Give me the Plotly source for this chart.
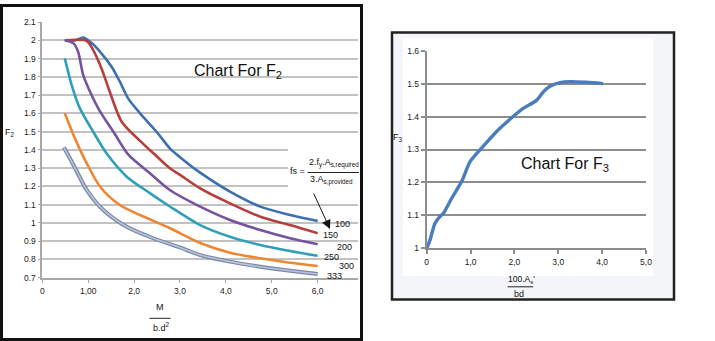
import plotly.graph_objects as go

# ---- F2 chart data: M / b.d^2 versus modification factor F2 for each fs ----
fs_labels = ["100", "150", "200", "250", "300", "333"]

x_100 = [0.49, 0.73, 0.89, 1.05, 1.26, 1.51, 1.69, 1.87, 2.13, 2.49, 2.78, 3.0, 3.44, 4.09, 4.75, 5.40, 6.0]
y_100 = [2.0, 2.0, 2.015, 1.99, 1.937, 1.855, 1.773, 1.682, 1.600, 1.499, 1.408, 1.36, 1.275, 1.171, 1.089, 1.043, 1.01]

x_150 = [0.49, 0.97, 1.1, 1.29, 1.47, 1.73, 2.13, 2.42, 2.78, 3.0, 3.44, 4.09, 4.75, 5.40, 6.0]
y_150 = [2.0, 1.996, 1.95, 1.846, 1.718, 1.554, 1.449, 1.381, 1.299, 1.263, 1.189, 1.107, 1.034, 0.988, 0.943]

x_200 = [0.49, 0.68, 0.78, 0.89, 1.04, 1.26, 1.55, 1.87, 2.35, 2.78, 3.44, 4.09, 4.75, 5.40, 6.0]
y_200 = [2.0, 1.983, 1.937, 1.81, 1.718, 1.609, 1.499, 1.375, 1.271, 1.18, 1.089, 1.016, 0.961, 0.916, 0.883]

x_250 = [0.49, 0.64, 0.82, 1.11, 1.40, 1.84, 2.35, 2.78, 3.44, 4.09, 4.75, 5.40, 6.0]
y_250 = [1.901, 1.755, 1.627, 1.499, 1.381, 1.253, 1.162, 1.09, 0.988, 0.924, 0.879, 0.846, 0.820]

x_300 = [0.49, 0.68, 0.86, 0.97, 1.26, 1.69, 2.13, 2.75, 3.44, 4.09, 4.75, 5.40, 6.0]
y_300 = [1.60, 1.481, 1.381, 1.326, 1.198, 1.098, 1.043, 0.975, 0.89, 0.837, 0.806, 0.782, 0.764]

x_333 = [0.47, 0.68, 0.97, 1.33, 1.84, 2.42, 3.0, 3.44, 4.09, 4.75, 5.40, 6.0]
y_333 = [1.414, 1.317, 1.18, 1.071, 0.979, 0.916, 0.866, 0.824, 0.788, 0.760, 0.738, 0.720]

f2_xticks = [0, 1, 2, 3, 4, 5, 6]
f2_xtext = ["0", "1,00", "2,0", "3,0", "4,0", "5,0", "6,0"]
f2_yticks = [0.7, 0.8, 0.9, 1.0, 1.1, 1.2, 1.3, 1.4, 1.5, 1.6, 1.7, 1.8, 1.9, 2.0, 2.1]
f2_ytext = ["0.7", "0.8", "0.9", "1", "1.1", "1.2", "1.3", "1.4", "1.5", "1.6", "1.7", "1.8", "1.9", "2", "2.1"]

# ---- F3 chart data: 100.As'/bd versus F3 ----
x_f3 = [0.0, 0.075, 0.19, 0.30, 0.38, 0.57, 0.80, 0.99, 1.25, 1.59, 1.97, 2.20, 2.51, 2.66, 2.81, 3.04, 3.27, 3.64, 4.02]
y_f3 = [1.0, 1.025, 1.076, 1.096, 1.106, 1.152, 1.204, 1.263, 1.304, 1.354, 1.40, 1.425, 1.45, 1.475, 1.492, 1.503, 1.506, 1.504, 1.50]

f3_xticks = [0, 1, 2, 3, 4, 5]
f3_xtext = ["0", "1,0", "2,0", "3,0", "4,0", "5,0"]
f3_yticks = [1.0, 1.1, 1.2, 1.3, 1.4, 1.5, 1.6]
f3_ytext = ["1", "1.1", "1.2", "1.3", "1.4", "1.5", "1.6"]

W, H = 715, 341
FONT = "Liberation Sans, Arial, sans-serif"


def px(x):
    return x / W


def py(y):
    return 1 - y / H


fig = go.Figure()

series = [
    (x_100, y_100, "#3d6fb1"),
    (x_150, y_150, "#b63f3b"),
    (x_200, y_200, "#7553a0"),
    (x_250, y_250, "#2f9fb9"),
    (x_300, y_300, "#ee8733"),
]
for (xs, ys, col), name in zip(series, fs_labels):
    fig.add_trace(go.Scatter(x=xs, y=ys, mode="lines", name=name,
                             line=dict(color=col, width=2.6, shape="spline", smoothing=0.8),
                             xaxis="x", yaxis="y", showlegend=False))

# fs = 333 drawn as an outlined double line
fig.add_trace(go.Scatter(x=x_333, y=y_333, mode="lines", name="333",
                         line=dict(color="#7b88a4", width=4, shape="spline", smoothing=0.8),
                         xaxis="x", yaxis="y", showlegend=False))
fig.add_trace(go.Scatter(x=x_333, y=y_333, mode="lines", name="333",
                         line=dict(color="#b7c4de", width=1.6, shape="spline", smoothing=0.8),
                         xaxis="x", yaxis="y", showlegend=False))

fig.add_trace(go.Scatter(x=x_f3, y=y_f3, mode="lines", name="F3",
                         line=dict(color="#4a7dbd", width=3.4, shape="spline", smoothing=0.8),
                         xaxis="x2", yaxis="y2", showlegend=False))

tickfont = dict(family=FONT, size=8.5, color="#1a1a1a")

fig.update_layout(
    width=W, height=H, autosize=False,
    margin=dict(l=0, r=0, t=0, b=0, pad=0),
    paper_bgcolor="white",
    plot_bgcolor="rgba(0,0,0,0)",
    xaxis=dict(domain=[px(42.3), px(357.6)], range=[0, 6.87], anchor="y",
               tickvals=f2_xticks, ticktext=f2_xtext, tickfont=tickfont,
               showgrid=False, zeroline=False, showline=True, linecolor="#a8a8a8", linewidth=1.5,
               ticks="outside", ticklen=4, tickcolor="#a8a8a8", tickwidth=1.2, automargin=False),
    yaxis=dict(domain=[py(277.7), py(22)], range=[0.7, 2.1], anchor="x",
               tickvals=f2_yticks, ticktext=f2_ytext, tickfont=tickfont,
               showgrid=True, gridcolor="#c2c2c2", gridwidth=1.6, zeroline=False,
               showline=True, linecolor="#a8a8a8", linewidth=1.5,
               ticks="outside", ticklen=3, tickcolor="#a8a8a8", tickwidth=1.2, automargin=False),
    xaxis2=dict(domain=[px(426.7), px(646)], range=[0, 5], anchor="y2",
                tickvals=f3_xticks, ticktext=f3_xtext, tickfont=tickfont,
                showgrid=False, zeroline=False, showline=True, linecolor="#8c8c8c", linewidth=2,
                ticks="outside", ticklen=4, tickcolor="#8c8c8c", tickwidth=2, automargin=False),
    yaxis2=dict(domain=[py(248.3), py(50.7)], range=[1.0, 1.6], anchor="x2",
                tickvals=f3_yticks, ticktext=f3_ytext, tickfont=tickfont,
                showgrid=True, gridcolor="#8e8e8e", gridwidth=2.2, zeroline=False,
                showline=True, linecolor="#8c8c8c", linewidth=2,
                ticks="outside", ticklen=4, tickcolor="#8c8c8c", tickwidth=2, automargin=False),
)

shapes = [
    # F3 panel background
    dict(type="rect", xref="paper", yref="paper", layer="below",
         x0=px(391.5), x1=px(674), y0=py(300), y1=py(32),
         fillcolor="#f4f5f8", line=dict(width=0)),
    dict(type="rect", xref="paper", yref="paper", layer="below",
         x0=px(403), x1=px(653), y0=py(276), y1=py(38),
         fillcolor="white", line=dict(width=0)),
    # white box behind the fs formula
    dict(type="rect", xref="paper", yref="paper", layer="above",
         x0=px(288), x1=px(359), y0=py(196), y1=py(145),
         fillcolor="white", line=dict(width=0)),
    # fraction bars
    dict(type="line", xref="paper", yref="paper", x0=px(307.5), x1=px(359), y0=py(172.5), y1=py(172.5),
         line=dict(color="#222", width=1)),
    dict(type="line", xref="paper", yref="paper", x0=px(149.5), x1=px(170.5), y0=py(318.3), y1=py(318.3),
         line=dict(color="#222", width=1)),
    dict(type="line", xref="paper", yref="paper", x0=px(507.7), x1=px(533.3), y0=py(286.8), y1=py(286.8),
         line=dict(color="#222", width=1)),
    # panel frames
    dict(type="rect", xref="paper", yref="paper", layer="above",
         x0=px(1.5), x1=px(361.5), y0=py(339.5), y1=py(5.5),
         line=dict(color="#111", width=3)),
    dict(type="rect", xref="paper", yref="paper", layer="above",
         x0=px(392), x1=px(674), y0=py(299.5), y1=py(32.5),
         line=dict(color="#222", width=2.5)),
]
fig.update_layout(shapes=shapes)


def label(x, y, text, size=9, xanchor="center"):
    return dict(x=px(x), y=py(y), xref="paper", yref="paper", text=text, showarrow=False,
                xanchor=xanchor, yanchor="middle", font=dict(family=FONT, size=size, color="#111"))


annotations = [
    label(237.5, 71, "Chart For F<sub>2</sub>", size=16),
    label(565, 164, "Chart For F<sub>3</sub>", size=16),
    label(9.5, 132, "F<sub>2</sub>", size=9),
    label(398, 137, "F<sub>3</sub>", size=9),
    label(160, 307, "M", size=9),
    label(161, 327, "b.d<sup>2</sup>", size=9),
    label(521, 279.5, "100.A<sub>s</sub>'", size=8.5),
    label(519, 293.5, "bd", size=9),
    label(297, 171, "fs =", size=9),
    label(333.5, 163.3, "2.f<sub>y</sub>.A<sub>s,required</sub>", size=9),
    label(331.5, 179.5, "3.A<sub>s,provided</sub>", size=9),
    label(342, 224, fs_labels[0], size=9),
    label(330, 235, fs_labels[1], size=9),
    label(344, 247, fs_labels[2], size=9),
    label(331, 257, fs_labels[3], size=9),
    label(346, 266, fs_labels[4], size=9),
    label(334, 276, fs_labels[5], size=9),
    # pointer from the formula to the curve labels
    dict(x=px(330), y=py(229), xref="paper", yref="paper", ax=-17, ay=-37,
         axref="pixel", ayref="pixel", showarrow=True, arrowhead=2, arrowsize=1.8,
         arrowwidth=1, arrowcolor="#111", text=""),
]
fig.update_layout(annotations=annotations)

fig.write_html("out.html")
